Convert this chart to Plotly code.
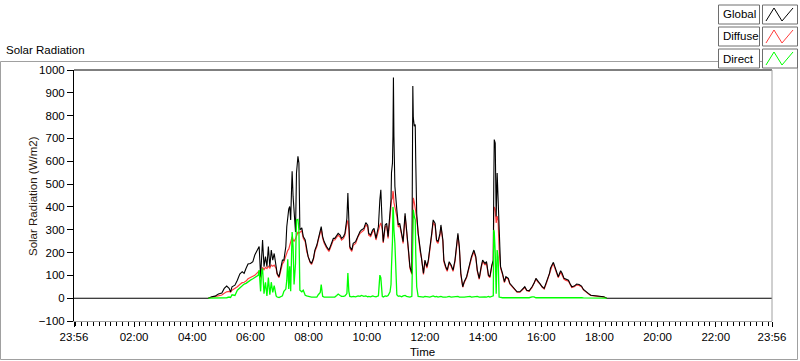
import plotly.graph_objects as go

# ---------------- data ----------------
DAY = "2024-05-01"
PREV_DAY = "2024-04-30"

TIMES = [
    "04:33", "04:40", "04:47", "04:54", "05:01", "05:06", "05:11", "05:16", "05:19", "05:22",
    "05:28", "05:33", "05:38", "05:43", "05:47", "05:51", "05:55", "06:00", "06:05", "06:09",
    "06:13", "06:16", "06:18", "06:21", "06:23", "06:25", "06:28", "06:31", "06:34", "06:37",
    "06:40", "06:43", "06:46", "06:49", "06:53", "06:55", "06:59", "07:02", "07:06", "07:09",
    "07:13", "07:15", "07:17", "07:19", "07:21", "07:23", "07:25", "07:26", "07:28", "07:30",
    "07:33", "07:35", "07:38", "07:40", "07:42", "07:46", "07:49", "07:53", "07:56", "07:59",
    "08:03", "08:06", "08:10", "08:13", "08:17", "08:20", "08:24", "08:26", "08:29", "08:32",
    "08:37", "08:42", "08:46", "08:51", "08:54", "08:58", "09:01", "09:05", "09:08", "09:12",
    "09:15", "09:19", "09:21", "09:23", "09:25", "09:29", "09:32", "09:37", "09:42", "09:46",
    "09:49", "09:54", "09:58", "10:02", "10:04", "10:08", "10:12", "10:15", "10:19", "10:24",
    "10:27", "10:29", "10:32", "10:34", "10:38", "10:41", "10:44", "10:48", "10:50", "10:51",
    "10:53", "10:54", "10:55", "10:56", "10:58", "11:02", "11:05", "11:08", "11:12", "11:15",
    "11:19", "11:22", "11:26", "11:29", "11:33", "11:35", "11:36", "11:38", "11:40", "11:41",
    "11:43", "11:46", "11:50", "11:53", "11:57", "12:00", "12:04", "12:07", "12:10", "12:14",
    "12:17", "12:21", "12:24", "12:27", "12:31", "12:33", "12:37", "12:39", "12:43", "12:46",
    "12:50", "12:54", "12:58", "13:02", "13:05", "13:08", "13:11", "13:14", "13:18", "13:21",
    "13:26", "13:29", "13:33", "13:36", "13:41", "13:45", "13:48", "13:52", "13:56", "13:59",
    "14:04", "14:07", "14:11", "14:14", "14:18", "14:21", "14:22", "14:23", "14:25", "14:27",
    "14:29", "14:31", "14:33", "14:36", "14:40", "14:44", "14:47", "14:52", "14:55", "15:01",
    "15:06", "15:10", "15:16", "15:22", "15:26", "15:30", "15:35", "15:41", "15:45", "15:49",
    "15:54", "15:57", "16:02", "16:06", "16:10", "16:13", "16:17", "16:19", "16:23", "16:25",
    "16:28", "16:32", "16:35", "16:40", "16:43", "16:47", "16:51", "16:56", "16:59", "17:03",
    "17:08", "17:13", "17:18", "17:23", "17:27", "17:32", "17:37", "17:42", "17:49", "17:58",
    "18:05", "18:09", "18:15",
]

GLOBAL = [
    0, 6, 9, 18, 23, 43, 53, 43, 28, 50,
    57, 79, 106, 116, 109, 131, 150, 152, 160, 189,
    204, 219, 226, 94, 211, 255, 138, 182, 138, 226,
    138, 211, 167, 196, 138, 109, 94, 123, 167, 167,
    226, 314, 372, 390, 402, 343, 490, 556, 446, 358,
    290, 549, 622, 592, 299, 308, 270, 255, 211, 182,
    160, 152, 175, 211, 233, 262, 299, 314, 270, 248,
    226, 211, 233, 262, 262, 277, 284, 277, 262, 270,
    285, 350, 461, 343, 226, 211, 240, 248, 277, 292,
    299, 306, 331, 320, 284, 277, 299, 306, 262, 314,
    431, 475, 314, 248, 321, 328, 270, 372, 431, 550,
    592, 710, 967, 710, 490, 387, 321, 328, 284, 248,
    372, 314, 211, 138, 109, 930, 790, 754, 761, 607,
    372, 284, 211, 182, 109, 167, 138, 167, 211, 284,
    343, 328, 255, 248, 284, 321, 255, 167, 138, 123,
    160, 145, 123, 167, 226, 284, 226, 109, 50, 72,
    94, 123, 160, 182, 211, 182, 123, 87, 138, 167,
    152, 160, 101, 94, 145, 167, 500, 695, 680, 358,
    549, 431, 226, 138, 109, 72, 94, 87, 65, 50,
    35, 28, 28, 40, 50, 35, 32, 50, 65, 87,
    72, 68, 50, 43, 65, 87, 109, 131, 152, 157,
    138, 109, 94, 120, 109, 87, 82, 79, 65, 50,
    53, 62, 60, 53, 38, 28, 21, 13, 12, 10,
    9, 6, 0,
]

DIFFUSE = [
    0, 3, 6, 10, 14, 22, 28, 30, 26, 35,
    42, 50, 60, 68, 70, 75, 85, 92, 96, 100,
    108, 115, 120, 88, 125, 135, 125, 135, 130, 140,
    132, 145, 140, 145, 130, 105, 90, 115, 150, 160,
    190, 200, 210, 215, 230, 240, 260, 270, 255, 250,
    260, 270, 290, 285, 290, 295, 262, 248, 205, 178,
    156, 148, 170, 205, 226, 255, 290, 303, 262, 242,
    220, 205, 226, 255, 255, 270, 276, 268, 255, 262,
    276, 330, 340, 300, 220, 205, 232, 240, 270, 284,
    290, 298, 322, 312, 276, 270, 290, 298, 255, 305,
    320, 330, 300, 242, 312, 318, 262, 355, 400, 430,
    440, 470, 460, 420, 400, 360, 312, 318, 276, 240,
    360, 305, 205, 132, 104, 400, 440, 420, 400, 380,
    350, 276, 205, 176, 104, 160, 132, 160, 204, 276,
    332, 318, 248, 240, 276, 312, 248, 160, 132, 118,
    154, 140, 118, 160, 218, 275, 218, 104, 48, 68,
    90, 118, 154, 175, 204, 175, 118, 83, 132, 160,
    146, 154, 97, 90, 140, 160, 380, 400, 390, 330,
    360, 340, 218, 132, 104, 68, 90, 83, 62, 47,
    33, 26, 26, 38, 47, 33, 30, 47, 62, 83,
    68, 64, 47, 40, 62, 83, 104, 126, 146, 150,
    132, 104, 90, 115, 104, 83, 78, 75, 62, 47,
    50, 58, 56, 50, 36, 26, 19, 12, 11, 9,
    8, 5, 0,
]

DIRECT = [
    0, 0, 1, 2, 3, 3, 2, 5, 3, 15,
    12, 35, 45, 55, 62, 65, 72, 79, 85, 90,
    94, 100, 123, 30, 116, 130, 20, 70, 10, 90,
    15, 70, 25, 55, 10, 5, 3, 5, 10, 30,
    40, 79, 170, 40, 140, 30, 180, 290, 226, 60,
    152, 343, 345, 300, 35, 28, 35, 13, 10, 8,
    5, 5, 5, 5, 5, 15, 25, 60, 8, 5,
    5, 5, 5, 5, 5, 12, 18, 12, 8, 8,
    10, 20, 110, 30, 8, 6, 8, 6, 10, 8,
    12, 8, 10, 6, 8, 6, 10, 8, 6, 10,
    101, 90, 8, 5, 10, 8, 12, 28, 60, 138,
    250, 400, 380, 300, 240, 15, 8, 10, 6, 10,
    12, 8, 6, 5, 8, 226, 387, 358, 343, 198,
    50, 8, 6, 5, 5, 8, 5, 6, 5, 8,
    10, 6, 8, 5, 6, 8, 5, 6, 5, 6,
    8, 5, 6, 5, 6, 8, 5, 6, 5, 5,
    6, 5, 8, 5, 6, 5, 8, 5, 6, 5,
    6, 5, 8, 5, 6, 10, 299, 290, 200, 20,
    211, 180, 5, 3, 2, 2, 2, 2, 2, 2,
    2, 2, 2, 2, 2, 2, 2, 6, 6, 2,
    2, 2, 2, 2, 2, 3, 5, 5, 4, 3,
    2, 2, 2, 2, 2, 2, 2, 2, 2, 2,
    2, 2, 2, 2, 1, 1, 1, 1, 1, 0,
    0, 0, 0,
]

RANGE_START = f"{PREV_DAY} 23:56"
RANGE_END = f"{DAY} 23:56"

TICK_LABELS = ["23:56", "02:00", "04:00", "06:00", "08:00", "10:00", "12:00",
               "14:00", "16:00", "18:00", "20:00", "22:00", "23:56"]
TICK_TIMES = [RANGE_START] + [f"{DAY} {t}" for t in TICK_LABELS[1:]]

SERIES_NAMES = ["Global", "Diffuse", "Direct"]
SERIES_COLORS = ["#000000", "#ff3c3c", "#00ff00"]

# ---------------- figure ----------------
day_x = [f"{DAY} {t}" for t in TIMES]
global_x = [RANGE_START] + day_x + [RANGE_END]
global_y = [0] + GLOBAL + [0]

FONT = "Liberation Sans"
FS = 11.5

W, H = 800, 361
L, R, T, B = 74, 772, 70, 321


def px(x):
    return (x - L) / (R - L)


def py(y):
    return (B - y) / (B - T)


fig = go.Figure()
fig.add_trace(go.Scatter(x=day_x, y=DIFFUSE, mode="lines", name=SERIES_NAMES[1],
                         line=dict(color=SERIES_COLORS[1], width=1.2)))
fig.add_trace(go.Scatter(x=global_x, y=global_y, mode="lines", name=SERIES_NAMES[0],
                         line=dict(color=SERIES_COLORS[0], width=1.1)))
fig.add_trace(go.Scatter(x=day_x, y=DIRECT, mode="lines", name=SERIES_NAMES[2],
                         line=dict(color=SERIES_COLORS[2], width=1.3)))

shapes = []
annotations = []

# outer panel frame
shapes.append(dict(type="rect", xref="paper", yref="paper",
                   x0=px(0.5), x1=px(797.5), y0=py(359.5), y1=py(61.5),
                   line=dict(color="#a0a0a0", width=1), layer="below"))
# plot frame top (dark) and right (light)
shapes.append(dict(type="line", xref="paper", yref="paper", x0=0, x1=1, y0=1, y1=1,
                   line=dict(color="#000000", width=1)))
shapes.append(dict(type="line", xref="paper", yref="paper", x0=1, x1=1, y0=0, y1=1,
                   line=dict(color="#a0a0a0", width=1)))

# legend (LabVIEW style)
leg_tops = [5, 27, 49]
for name, color, top in zip(SERIES_NAMES, SERIES_COLORS, leg_tops):
    bot = top + 19
    shapes.append(dict(type="rect", xref="paper", yref="paper",
                       x0=px(718.5), x1=px(759.5), y0=py(bot), y1=py(top),
                       line=dict(color="#6e6e6e", width=1), fillcolor="#ffffff"))
    shapes.append(dict(type="rect", xref="paper", yref="paper",
                       x0=px(762.5), x1=px(797.5), y0=py(bot), y1=py(top),
                       line=dict(color="#6e6e6e", width=1), fillcolor="#ffffff"))
    pts = [(766, bot - 3), (774, top + 3), (782, bot - 3), (793, top + 3)]
    path = "M " + " L ".join(f"{px(a)},{py(b)}" for a, b in pts)
    shapes.append(dict(type="path", xref="paper", yref="paper", path=path,
                       line=dict(color=color, width=1)))
    annotations.append(dict(text=name, xref="paper", yref="paper",
                            x=px(721), y=py(top + 9.5), xanchor="left", yanchor="middle",
                            showarrow=False, font=dict(family=FONT, size=FS, color="#000")))

# titles
annotations.append(dict(text="Solar Radiation", xref="paper", yref="paper",
                        x=px(4), y=py(50), xanchor="left", yanchor="middle",
                        showarrow=False, font=dict(family=FONT, size=FS, color="#000")))
annotations.append(dict(text="Solar Radiation (W/m2)", xref="paper", yref="paper",
                        x=px(33), y=py(196), xanchor="center", yanchor="middle",
                        textangle=-90, showarrow=False,
                        font=dict(family=FONT, size=FS, color="#2a1a10")))
annotations.append(dict(text="Time", xref="paper", yref="paper",
                        x=px(422), y=py(352), xanchor="center", yanchor="middle",
                        showarrow=False, font=dict(family=FONT, size=FS, color="#000")))

fig.update_layout(
    width=W, height=H,
    margin=dict(l=L, r=W - R, t=T, b=H - B, pad=0),
    paper_bgcolor="#ffffff", plot_bgcolor="#ffffff",
    showlegend=False,
    shapes=shapes, annotations=annotations,
    xaxis=dict(type="date", range=[RANGE_START, RANGE_END],
               tickmode="array", tickvals=TICK_TIMES, ticktext=TICK_LABELS,
               ticks="outside", ticklen=5, tickcolor="#000", tickwidth=1,
               showgrid=False, zeroline=False, showline=True,
               linecolor="#a0a0a0", linewidth=1,
               tickfont=dict(family=FONT, size=FS, color="#000"),
               minor=dict(ticks="outside", ticklen=4, tickcolor="#000",
                          tick0=f"{DAY} 00:00", dtick=12 * 60 * 1000, showgrid=False)),
    yaxis=dict(range=[-100, 1000], tick0=0, dtick=100,
               ticks="outside", ticklen=6, tickcolor="#000", tickwidth=1,
               showgrid=False, zeroline=False, showline=True,
               linecolor="#000", linewidth=1,
               tickfont=dict(family=FONT, size=FS, color="#000")),
)

fig.write_html(
    "out.html",
    config={"displayModeBar": False},
    post_script="document.body.style.margin='0';document.body.style.padding='0';"
                "document.body.style.overflow='hidden';",
)
